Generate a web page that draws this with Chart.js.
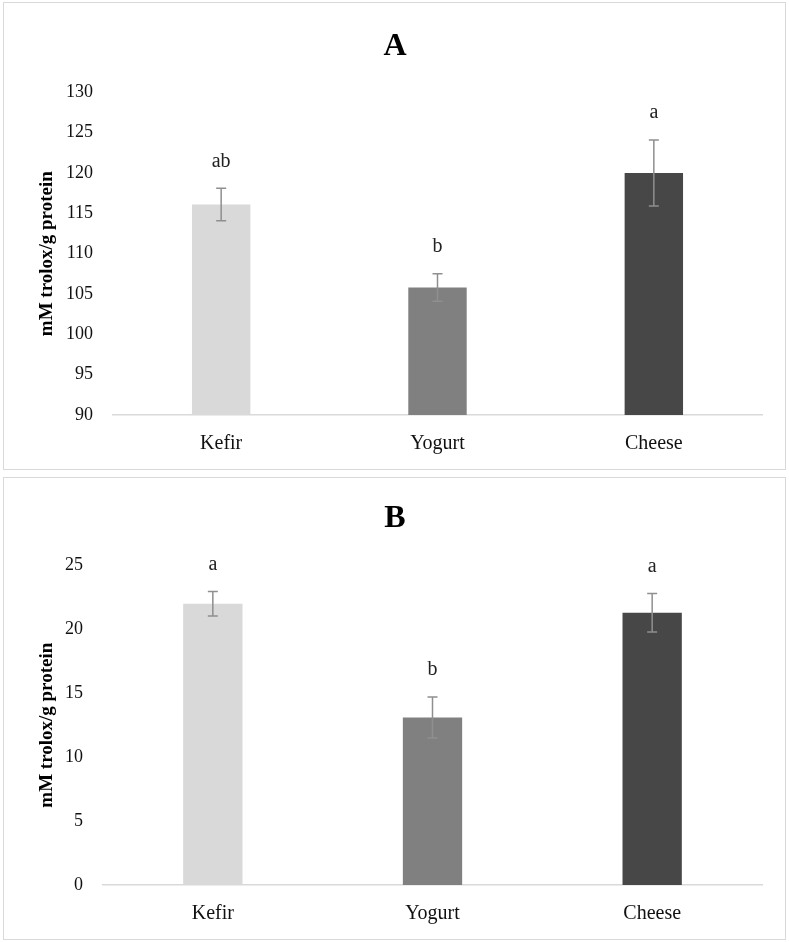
<!DOCTYPE html>
<html>
<head>
<meta charset="utf-8">
<script src="https://cdn.jsdelivr.net/npm/chart.js@4"></script>
<style>
  html, body { margin: 0; padding: 0; background: #fff; }
  .panel { position: absolute; left: 3px; width: 781px; border: 1px solid #d9d9d9; background: #fff; }
  #panelA { top: 2px; height: 466px; }
  #panelB { top: 477px; height: 461px; }
  canvas { display: block; }
</style>
</head>
<body>
<div class="panel" id="panelA"><canvas id="chartA"></canvas></div>
<div class="panel" id="panelB"><canvas id="chartB"></canvas></div>
<script>
    "use strict";

    var categories = ['Kefir', 'Yogurt', 'Cheese'];
    var barColors = ['#d9d9d9', '#808080', '#474747'];

    // panel A
    var valuesA = [116.1, 105.8, 120.0];
    var errorsA = [2.0, 1.7, 4.1];
    var lettersA = ['ab', 'b', 'a'];
    var ticksA = [90, 95, 100, 105, 110, 115, 120, 125, 130];

    // panel B
    var valuesB = [22.0, 13.1, 21.3];
    var errorsB = [0.95, 1.6, 1.5];
    var lettersB = ['a', 'b', 'a'];
    var ticksB = [0, 5, 10, 15, 20, 25];

    var FONT = "'Liberation Serif', 'DejaVu Serif', serif";

    // draws error bars and significance letters from the data, via the y scale
    var errorBarPlugin = {
        id: 'errorBars',
        afterDatasetsDraw: function(chart, args, opts) {
            var ctx = chart.ctx;
            var yScale = chart.scales.y;
            var meta = chart.getDatasetMeta(0);
            var values = chart.data.datasets[0].data;
            ctx.save();
            for (var i = 0; i < meta.data.length; i++) {
                var x = meta.data[i].x;
                var top = yScale.getPixelForValue(values[i] + opts.errors[i]);
                var bot = yScale.getPixelForValue(values[i] - opts.errors[i]);
                ctx.strokeStyle = '#8f8f8f';
                ctx.lineWidth = 1.5;
                ctx.beginPath();
                ctx.moveTo(x, top); ctx.lineTo(x, bot);
                ctx.moveTo(x - 5, top); ctx.lineTo(x + 5, top);
                ctx.moveTo(x - 5, bot); ctx.lineTo(x + 5, bot);
                ctx.stroke();

                ctx.fillStyle = '#222';
                ctx.font = '20px ' + FONT;
                ctx.textAlign = 'center';
                ctx.textBaseline = 'middle';
                ctx.fillText(opts.letters[i], x, top - 27);
            }
            ctx.restore();
        }
    };

    function makeChart(id, title, values, errors, letters, ticks, yWidth, titleTop, titleBottom) {
        var stepSize = ticks[1] - ticks[0];
        return new Chart(document.getElementById(id), {
            type: 'bar',
            data: {
                labels: categories,
                datasets: [{
                    data: values,
                    backgroundColor: barColors,
                    borderWidth: 0,
                    categoryPercentage: 1.0,
                    barPercentage: 0.27
                }]
            },
            plugins: [errorBarPlugin],
            options: {
                responsive: true,
                maintainAspectRatio: false,
                animation: false,
                layout: { padding: { left: 24, right: 23, top: 0, bottom: 0 } },
                plugins: {
                    legend: { display: false },
                    tooltip: { enabled: false },
                    title: {
                        display: true,
                        text: title,
                        color: '#000',
                        font: { family: FONT, size: 32, weight: 'bold' },
                        padding: { top: titleTop, bottom: titleBottom }
                    },
                    errorBars: { errors: errors, letters: letters }
                },
                scales: {
                    x: {
                        grid: { display: false, drawTicks: false },
                        border: { display: true, color: '#d9d9d9', width: 1.5 },
                        ticks: {
                            color: '#111',
                            padding: 17,
                            font: { family: FONT, size: 20 }
                        },
                        afterFit: function(scale) { scale.height = 54; }
                    },
                    y: {
                        min: ticks[0],
                        max: ticks[ticks.length - 1],
                        grid: { display: false, drawTicks: false },
                        border: { display: false },
                        ticks: {
                            stepSize: stepSize,
                            color: '#111',
                            padding: 20,
                            font: { family: FONT, size: 18 }
                        },
                        title: {
                            display: true,
                            text: 'mM trolox/g protein',
                            color: '#000',
                            font: { family: FONT, size: 19, weight: 'bold' },
                            padding: { top: 8, bottom: 0 }
                        },
                        afterFit: function(scale) { scale.width = yWidth; }
                    }
                }
            }
        });
    }

    makeChart('chartA', 'A', valuesA, errorsA, lettersA, ticksA, 85, 25, 26);
    makeChart('chartB', 'B', valuesB, errorsB, lettersB, ticksB, 75, 22, 27);
</script>
</body>
</html>
